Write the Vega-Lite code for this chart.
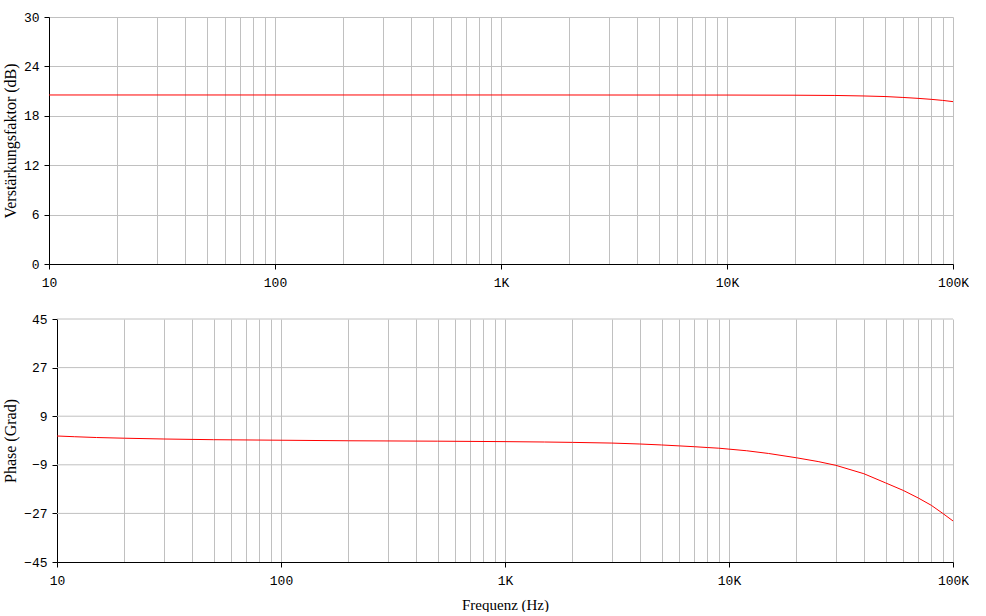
{
  "$schema": "https://vega.github.io/schema/vega-lite/v6.json",
  "padding": {"left": 2, "top": 11, "right": 0, "bottom": 0},
  "autosize": {"type": "pad"},
  "background": "white",
  "spacing": 24,
  "config": {
    "view": {"stroke": null},
    "axis": {
      "labelFont": "Liberation Mono", "labelFontSize": 13, "labelColor": "#000000",
      "titleFont": "Liberation Serif", "titleFontSize": 15, "titleFontWeight": "normal", "titleColor": "#000000",
      "domainColor": "#000000", "tickColor": "#000000", "gridColor": "#c0c0c0", "gridOpacity": 1,
      "tickSize": 5, "domainWidth": 1, "tickWidth": 1, "gridWidth": 1,
      "labelPadding": 5, "titlePadding": 5
    },
    "axisY": {"titleFontSize": 16}
  },
  "datasets": {
    "gain": [
      {"f": 10, "v": 20.53}, {"f": 100, "v": 20.53}, {"f": 1000, "v": 20.53},
      {"f": 10000, "v": 20.52}, {"f": 20000, "v": 20.5}, {"f": 30000, "v": 20.47},
      {"f": 40000, "v": 20.41}, {"f": 50000, "v": 20.34}, {"f": 60000, "v": 20.23},
      {"f": 70000, "v": 20.12}, {"f": 80000, "v": 20.0}, {"f": 90000, "v": 19.87},
      {"f": 100000, "v": 19.72}
    ],
    "phase": [
      {"f": 10, "v": 1.67}, {"f": 12, "v": 1.4}, {"f": 15, "v": 1.1}, {"f": 20, "v": 0.85},
      {"f": 30, "v": 0.55}, {"f": 50, "v": 0.3}, {"f": 100, "v": 0.1}, {"f": 200, "v": -0.1},
      {"f": 500, "v": -0.25}, {"f": 1000, "v": -0.42}, {"f": 1500, "v": -0.56}, {"f": 2000, "v": -0.7},
      {"f": 3000, "v": -0.95}, {"f": 4000, "v": -1.3}, {"f": 5000, "v": -1.65}, {"f": 6000, "v": -2.0},
      {"f": 7000, "v": -2.3}, {"f": 8000, "v": -2.6}, {"f": 9000, "v": -2.85}, {"f": 10000, "v": -3.2},
      {"f": 12000, "v": -3.8}, {"f": 15000, "v": -4.8}, {"f": 20000, "v": -6.4}, {"f": 25000, "v": -7.8},
      {"f": 30000, "v": -9.2}, {"f": 40000, "v": -12.3}, {"f": 50000, "v": -15.7}, {"f": 60000, "v": -18.5},
      {"f": 70000, "v": -21.3}, {"f": 80000, "v": -24.0}, {"f": 90000, "v": -27.0}, {"f": 100000, "v": -29.8}
    ],
    "phaseGrid": [{"g": -27}, {"g": -9}, {"g": 9}, {"g": 27}, {"g": 45}]
  },
  "vconcat": [
    {
      "width": 904, "height": 247,
      "data": {"name": "gain"},
      "mark": {"type": "line", "color": "#ff0000", "strokeWidth": 1},
      "encoding": {
        "x": {
          "field": "f", "type": "quantitative",
          "scale": {"type": "log", "domain": [10, 100000], "nice": false},
          "axis": {
            "title": null, "grid": true,
            "values": [10,20,30,40,50,60,70,80,90,100,200,300,400,500,600,700,800,900,1000,2000,3000,4000,5000,6000,7000,8000,9000,10000,20000,30000,40000,50000,60000,70000,80000,90000,100000],
            "labelExpr": "datum.value == 10 ? '10' : datum.value == 100 ? '100' : datum.value == 1000 ? '1K' : datum.value == 10000 ? '10K' : datum.value == 100000 ? '100K' : ''",
            "labelOverlap": false, "labelFlush": false, "labelPadding": 7,
            "tickOpacity": {"condition": {"test": "indexof([10,100,1000,10000,100000], datum.value) >= 0", "value": 1}, "value": 0}
          }
        },
        "y": {
          "field": "v", "type": "quantitative",
          "scale": {"domain": [0, 30], "nice": false, "zero": false},
          "axis": {"title": "Verstärkungsfaktor (dB)", "values": [0, 6, 12, 18, 24, 30]}
        }
      }
    },
    {
      "width": 904, "height": 243,
      "layer": [
        {
          "data": {"name": "phaseGrid"},
          "mark": {"type": "rule", "color": "#c0c0c0", "strokeWidth": 1},
          "encoding": {
            "x": {"datum": 10, "type": "quantitative"},
            "x2": {"datum": 100000},
            "y": {"field": "g", "type": "quantitative", "title": "Phase (Grad)"}
          }
        },
        {
          "data": {"name": "phase"},
          "mark": {"type": "line", "color": "#ff0000", "strokeWidth": 1},
          "encoding": {
            "x": {
              "field": "f", "type": "quantitative",
              "scale": {"type": "log", "domain": [10, 100000], "nice": false, "rangeMin": 8},
              "axis": {
                "title": "Frequenz (Hz)", "titlePadding": 10, "grid": true,
                "values": [10,20,30,40,50,60,70,80,90,100,200,300,400,500,600,700,800,900,1000,2000,3000,4000,5000,6000,7000,8000,9000,10000,20000,30000,40000,50000,60000,70000,80000,90000,100000],
                "labelExpr": "datum.value == 10 ? '10' : datum.value == 100 ? '100' : datum.value == 1000 ? '1K' : datum.value == 10000 ? '10K' : datum.value == 100000 ? '100K' : ''",
                "labelOverlap": false, "labelFlush": false, "labelPadding": 7,
                "tickOpacity": {"condition": {"test": "indexof([10,100,1000,10000,100000], datum.value) >= 0", "value": 1}, "value": 0}
              }
            },
            "y": {
              "field": "v", "type": "quantitative",
              "scale": {"domain": [-45, 45], "nice": false, "zero": false},
              "axis": {"title": "Phase (Grad)", "values": [-45, -27, -9, 9, 27, 45], "grid": false, "offset": -8}
            }
          }
        }
      ]
    }
  ]
}
